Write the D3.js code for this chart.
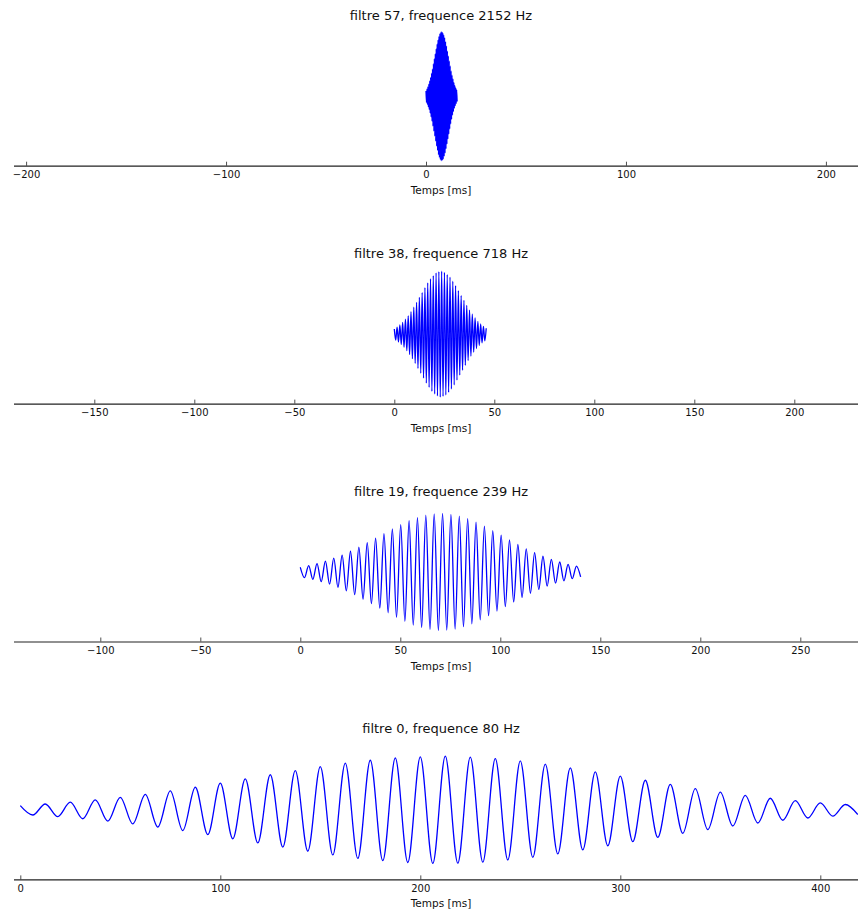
<!DOCTYPE html>
<html>
<head>
<meta charset="utf-8">
<script src="https://cdnjs.cloudflare.com/ajax/libs/d3/7.8.5/d3.min.js"></script>
<style>
body { margin: 0; background: #fff; }
text { font-family: "DejaVu Sans", sans-serif; }
</style>
</head>
<body>
<div class="board"></div>
<script>
//DATA

var filterIds = [57, 38, 19, 0];
var frequencies = [2152, 718, 239, 80];          // Hz
var durations = [15.6, 46.5, 140.7, 421];        // ms, length of each impulse response
var xLimits = [[-206.3, 221.3], [-190.4, 237.1], [-143.4, 284.1], [-3.4, 424.1]];
var yLimits = [1.07, 1.10, 1.18, 1.29];          // symmetric y range, envelope peak = 1
var xTicks = [
  [-200, -100, 0, 100, 200],
  [-150, -100, -50, 0, 50, 100, 150, 200],
  [-100, -50, 0, 50, 100, 150, 200, 250],
  [0, 100, 200, 300, 400]
];
// envelope of the oscillation at 0%, 5%, ... 100% of the duration
var envelope = [0.08, 0.13, 0.20, 0.29, 0.40, 0.53, 0.66, 0.79, 0.90, 0.97, 1.00,
                0.97, 0.90, 0.79, 0.66, 0.53, 0.40, 0.29, 0.20, 0.13, 0.08];

///BOARD

var width = 858, height = 913;
// the axes run a little past the right edge of the picture
var left = 13.5, right = 868.5;
var firstAxisY = 165.7, panelStep = 237.9, axesHeight = 139;

var svg = d3.select('.board').append('svg')
  .attr('width', width)
  .attr('height', height)
  .style('background', '#fff');

var envScale = d3.scaleLinear()
  .domain(envelope.map(function (d, i) { return i / (envelope.length - 1); }))
  .range(envelope);

//PANELS

filterIds.forEach(function (id, i) {
  var bottom = firstAxisY + i * panelStep;
  var top = bottom - axesHeight;

  var x = d3.scaleLinear().domain(xLimits[i]).range([left, right]);
  var y = d3.scaleLinear().domain([-yLimits[i], yLimits[i]]).range([bottom, top]);

  // one point per half period (peaks and troughs), smoothed by the curve
  var f = frequencies[i] / 1000;   // cycles per ms
  var n = Math.floor(durations[i] * f * 2);
  var points = d3.range(n + 1).map(function (k) {
    var t = k / (2 * f);
    return [t, (k % 2 ? -1 : 1) * envScale(t / durations[i])];
  });

  var g = svg.append('g');

  g.append('clipPath').attr('id', 'clip' + i)
    .append('rect')
    .attr('x', left).attr('y', top)
    .attr('width', right - left).attr('height', bottom - top);

  var line = d3.line()
    .x(function (d) { return x(d[0]); })
    .y(function (d) { return y(d[1]); })
    .curve(d3.curveMonotoneX);

  g.append('path')
    .datum(points)
    .attr('clip-path', 'url(#clip' + i + ')')
    .attr('d', line)
    .attr('fill', 'none')
    .attr('stroke', '#0000ff')
    .attr('stroke-width', 1.3);

  // bottom spine with inward ticks
  var axis = g.append('g')
    .attr('transform', 'translate(0,' + bottom + ')')
    .call(d3.axisBottom(x)
      .tickValues(xTicks[i])
      .tickSizeInner(-4)
      .tickSizeOuter(0)
      .tickPadding(5.5));

  axis.select('.domain').attr('stroke', '#222').attr('stroke-width', 1.2);
  axis.selectAll('.tick line').attr('stroke', '#222').attr('stroke-width', 0.8);
  axis.selectAll('.tick text')
    .attr('fill', '#111')
    .attr('font-size', 10)
    .attr('font-family', '"DejaVu Sans", sans-serif');

  g.append('text')
    .attr('x', (left + right) / 2)
    .attr('y', bottom + 28)
    .attr('text-anchor', 'middle')
    .attr('font-size', 10.5)
    .attr('fill', '#111')
    .text('Temps [ms]');

  g.append('text')
    .attr('x', (left + right) / 2)
    .attr('y', top - 7)
    .attr('text-anchor', 'middle')
    .attr('font-size', 13)
    .attr('fill', '#111')
    .text('filtre ' + id + ', frequence ' + frequencies[i] + ' Hz');
});
</script>
</body>
</html>
